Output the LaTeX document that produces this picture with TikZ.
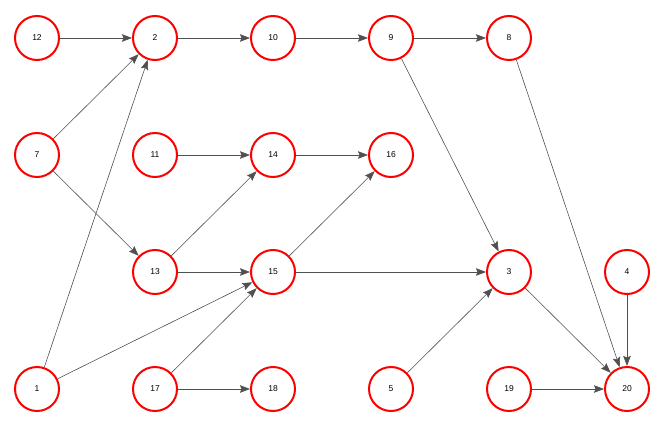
\documentclass[tikz,border=0pt]{standalone}
\usepackage{fontspec}
\setmainfont{Liberation Sans}
\usepackage{xcolor}
\usetikzlibrary{arrows.meta}
\definecolor{nodered}{HTML}{FF0000}
\definecolor{edgegray}{HTML}{505050}
\begin{document}
\begin{tikzpicture}[x=1pt,y=-1pt]
				\tikzstyle{every node}=[font=\fontsize{8.5}{10}\selectfont];
				\tikzstyle{vertex}=[circle, draw=nodered, line width=2pt, minimum size=44pt, inner sep=0pt, fill=white];
				\tikzstyle{edge}=[draw=edgegray, line width=0.6pt, -{Stealth[length=10pt, width=7.5pt, inset=1.5pt]}];
				\useasboundingbox (0, 0) rectangle (664, 428);
				
				%Row 1
				\node[vertex] (n12) at (37, 38) {12};
				\node[vertex] (n2) at (155, 38) {2};
				\node[vertex] (n10) at (273, 38) {10};
				\node[vertex] (n9) at (391, 38) {9};
				\node[vertex] (n8) at (509, 38) {8};
				
				%Row 2
				\node[vertex] (n7) at (37, 155) {7};
				\node[vertex] (n11) at (155, 155) {11};
				\node[vertex] (n14) at (273, 155) {14};
				\node[vertex] (n16) at (391, 155) {16};
				
				%Row 3
				\node[vertex] (n13) at (155, 272) {13};
				\node[vertex] (n15) at (273, 272) {15};
				\node[vertex] (n3) at (509, 272) {3};
				\node[vertex] (n4) at (627, 272) {4};
				
				%Row 4
				\node[vertex] (n1) at (37, 389) {1};
				\node[vertex] (n17) at (155, 389) {17};
				\node[vertex] (n18) at (273, 389) {18};
				\node[vertex] (n5) at (391, 389) {5};
				\node[vertex] (n19) at (509, 389) {19};
				\node[vertex] (n20) at (627, 389) {20};
				
				%Lines
				\foreach \a/\b in {12/2, 2/10, 10/9, 9/8, 9/3, 8/20, 7/2, 7/13, 1/2, 1/15, 11/14, 14/16, 13/14, 13/15, 15/16, 15/3, 3/20, 4/20, 17/15, 17/18, 5/3, 19/20}
					\draw[edge] (n\a) -- (n\b);

			\end{tikzpicture}
\end{document}
